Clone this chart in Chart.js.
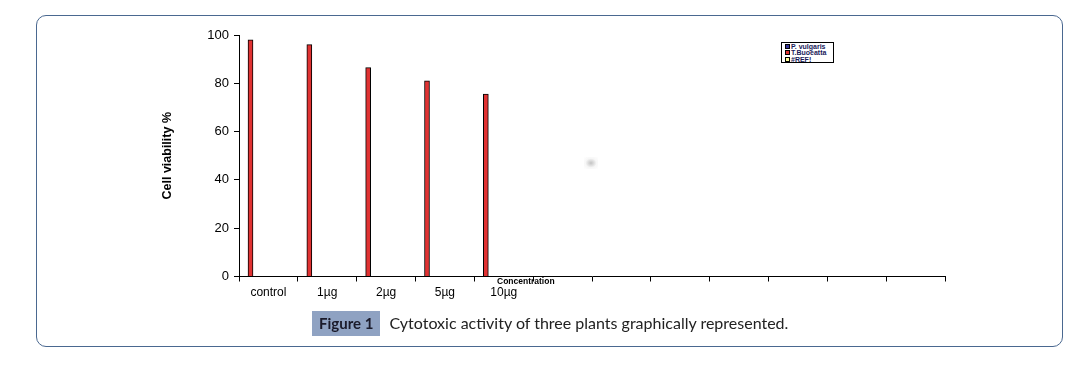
<!DOCTYPE html>
<html>
<head>
<meta charset="utf-8">
<title>Cytotoxic activity</title>
<script src="https://cdn.jsdelivr.net/npm/chart.js@4"></script>
<style>
  html, body { margin: 0; padding: 0; background: #fff; }
  body { width: 1091px; height: 367px; position: relative; overflow: hidden; font-family: "Liberation Sans", Arial, sans-serif; }
  .frame { position: absolute; left: 36px; top: 15px; width: 1027px; height: 332px; box-sizing: border-box;
           border: 1px solid #4a6890; border-radius: 10px; }
  #chartWrap { position: absolute; left: 0; top: 0; width: 1091px; height: 367px; }
  .legend { position: absolute; left: 781px; top: 42px; width: 53px; height: 21px; box-sizing: border-box;
            border: 1px solid #000; background: #fff; padding: 1px 0 0 3px; font: bold 7px "Liberation Sans", Arial, sans-serif;
            color: #1a1a5a; line-height: 6.4px; }
  .legend span.mk { display: inline-block; width: 3px; height: 3px; border: 0.6px solid #000; margin-right: 1px; vertical-align: 0; }
  .xtitle { position: absolute; left: 497px; top: 276px; font: bold 8.5px "Liberation Sans", Arial, sans-serif; color: #000; }
  .blob { position: absolute; left: 584px; top: 157px; width: 14px; height: 12px;
          background: radial-gradient(ellipse at center, rgba(120,120,120,0.45) 0%, rgba(200,200,200,0.15) 55%, rgba(255,255,255,0) 100%); }
  .caption { position: absolute; top: 311px; left: 312px; font-family: Lato, "Open Sans", sans-serif; color: #222; }
  .caption .fig { display: inline-block; background: #8fa2c2; font-size: 15px; font-weight: bold; padding: 3px 7px 4px 7px; height: 18px; line-height: 18px; color: #1b1b2b; }
  .caption .txt { display: inline-block; margin-left: 9px; font-size: 16px; line-height: 18px; }
</style>
</head>
<body>
<div class="frame"></div>
<div id="chartWrap"><canvas id="viabilityChart" width="1091" height="367"></canvas></div>
<div class="blob"></div>
<div class="legend" id="legend"></div>
<div class="xtitle">Concentration</div>
<div class="caption"><span class="fig">Figure 1</span><span class="txt">Cytotoxic activity of three plants graphically represented.</span></div>

<script>
  // categories on the x axis (the chart keeps 7 empty slots after 10µg)
  const categories = ["control", "1µg", "2µg", "5µg", "10µg", "", "", "", "", "", "", ""];
  const seriesNames = ["P. vulgaris", "T.Buoeatta", "#REF!"];
  const seriesColors = ["#333399", "#e03232", "#ffff99"];
  // cell viability %
  const pVulgaris = [null, null, null, null, null, null, null, null, null, null, null, null];
  const tBuoeatta = [98, 96, 86.5, 81, 75.5, null, null, null, null, null, null, null];
  const refSeries = [null, null, null, null, null, null, null, null, null, null, null, null];
  const yTicks = [0, 20, 40, 60, 80, 100];

  const allSeries = [pVulgaris, tBuoeatta, refSeries];

  // legend
  const legendEl = document.getElementById("legend");
  legendEl.innerHTML = seriesNames.map((n, i) =>
    '<div><span class="mk" style="background:' + seriesColors[i] + '"></span>' + n + '</div>').join("");

  const datasets = allSeries.map((vals, i) => ({
    label: seriesNames[i],
    data: vals.map((v, k) => ({ x: k, y: v })),
    backgroundColor: seriesColors[i],
    borderColor: "#000",
    borderWidth: 1,
    borderSkipped: "bottom",
    barThickness: 5,
    xAxisID: "xb"
  }));

  // make sure the y axis line is there, along the y scale
  const yAxisLine = {
    id: "yAxisLine",
    afterDraw(chart) {
      const s = chart.scales.y, ctx = chart.ctx;
      ctx.save();
      ctx.strokeStyle = "#000";
      ctx.lineWidth = 1;
      ctx.beginPath();
      ctx.moveTo(Math.round(s.right) + 0.5, s.top);
      ctx.lineTo(Math.round(s.right) + 0.5, s.bottom + 0.5);
      ctx.stroke();
      ctx.restore();
    }
  };

  new Chart(document.getElementById("viabilityChart"), {
    type: "bar",
    data: { labels: categories, datasets: datasets },
    plugins: [yAxisLine],
    options: {
      responsive: false,
      animation: false,
      layout: { padding: { left: 160, top: 35, right: 146, bottom: 60 } },
      plugins: { legend: { display: false }, tooltip: { enabled: false } },
      scales: {
        x: {
          type: "category",
          offset: true,
          grid: { offset: true, drawOnChartArea: false, drawTicks: true, tickLength: 5, color: "#000", lineWidth: 1 },
          border: { display: true, color: "#000", width: 1 },
          ticks: { color: "#000", font: { family: "Liberation Sans", size: 12 }, padding: 4, autoSkip: false, maxRotation: 0 },
          afterFit: s => { s.height = 30.5; }
        },
        // hidden axis that carries the bars (shifted like the original Excel plot)
        xb: {
          type: "linear",
          display: false,
          offset: false,
          grid: { offset: false },
          min: -0.1955,
          max: 11.8045
        },
        y: {
          min: 0,
          max: 100,
          afterBuildTicks: s => { s.ticks = yTicks.map(v => ({ value: v })); },
          grid: { drawOnChartArea: false, drawTicks: true, tickLength: 5, color: "#000" },
          border: { display: true, color: "#000", width: 1 },
          ticks: { color: "#000", font: { family: "Liberation Sans", size: 13 }, padding: 5 },
          title: { display: true, text: "Cell viability %", color: "#000", font: { family: "Liberation Sans", size: 12.5, weight: "bold" }, padding: 0 },
          afterFit: s => { s.width = 79; }
        }
      }
    }
  });
</script>
</body>
</html>
